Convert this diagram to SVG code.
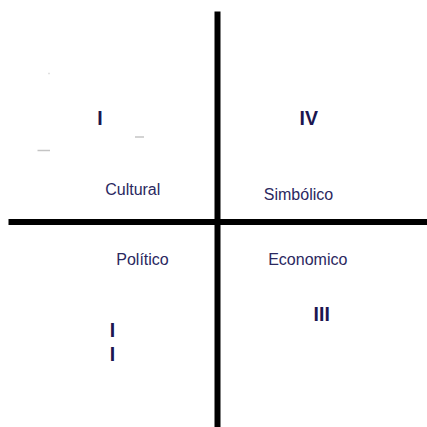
<svg xmlns="http://www.w3.org/2000/svg" width="427" height="427" viewBox="0 0 427 427">
<style>
.axis{stroke:#000;stroke-width:6;fill:none}
.num{font-family:"Liberation Sans",Arial,sans-serif;font-weight:bold;font-size:19.5px;fill:#1b1650;text-anchor:middle}
.lbl{font-family:"Liberation Sans",Arial,sans-serif;font-size:16px;fill:#2b2860}
.tick{stroke:#c4c4c4;stroke-width:1.5}
</style>
<rect width="427" height="427" fill="#fff"/>
<g id="connectors">
<line class="axis" x1="217.5" y1="11.5" x2="217.5" y2="427"/>
<line class="axis" x1="8.5" y1="222" x2="427" y2="222"/>
</g>
<g id="marks">
<line class="tick" x1="48.5" y1="73.5" x2="49.5" y2="73.5"/>
<line class="tick" x1="135" y1="137" x2="144" y2="137"/>
<line class="tick" x1="37.5" y1="150.5" x2="50" y2="150.5"/>
</g>
<g id="q1"><text class="num" x="100" y="125.3">I</text><text class="lbl" x="105.2" y="195">Cultural</text></g>
<g id="q4"><text class="num" x="308.7" y="125">IV</text><text class="lbl" x="263.8" y="200">Simbólico</text></g>
<g id="q2"><text class="lbl" x="116.3" y="265">Político</text><text class="num" x="112.4" y="337.3">I</text><text class="num" x="112.4" y="361">I</text></g>
<g id="q3"><text class="lbl" x="268.2" y="265">Economico</text><text class="num" x="321.7" y="321">III</text></g>
</svg>
